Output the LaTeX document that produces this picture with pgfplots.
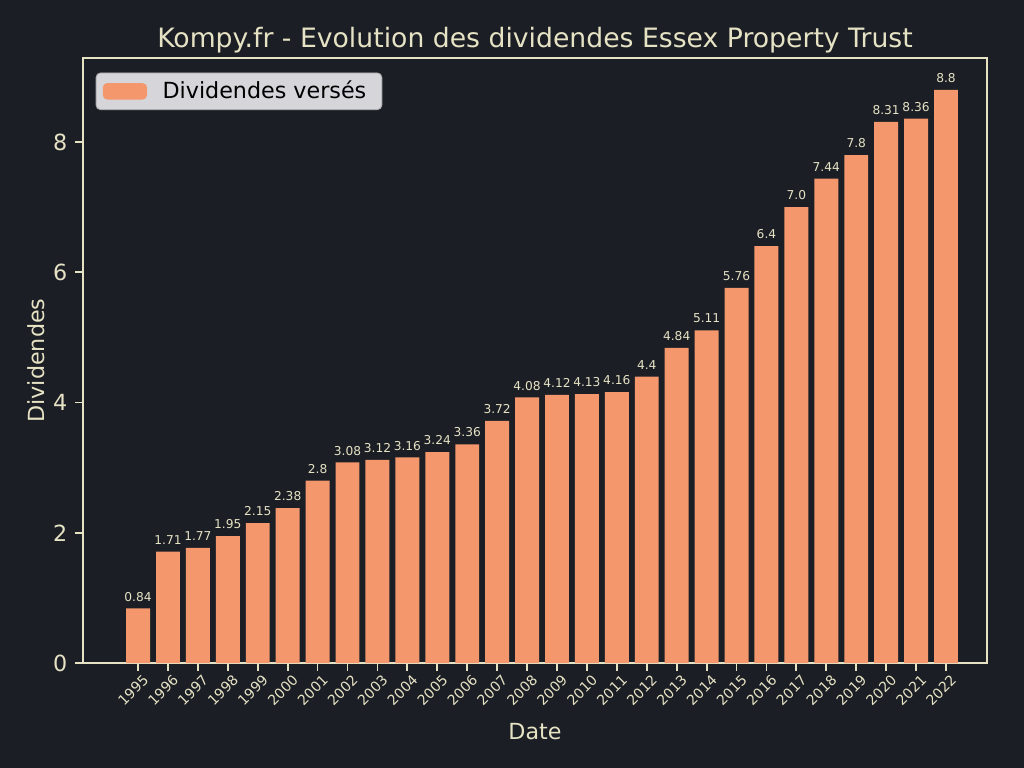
\documentclass[border=0pt]{standalone}
\usepackage{pgfplots}
\pgfplotsset{compat=1.18}
\usepackage{pgfplotstable}
\usepackage{fontspec}
\setmainfont{DejaVu Sans}
\definecolor{bg}{RGB}{27,30,37}
\definecolor{fg}{RGB}{230,226,196}
\definecolor{bar}{RGB}{244,151,108}
\definecolor{legbg}{RGB}{214,214,218}
\pgfplotstableread{
year val lab
1995 0.84 0.84
1996 1.71 1.71
1997 1.77 1.77
1998 1.95 1.95
1999 2.15 2.15
2000 2.38 2.38
2001 2.8 2.8
2002 3.08 3.08
2003 3.12 3.12
2004 3.16 3.16
2005 3.24 3.24
2006 3.36 3.36
2007 3.72 3.72
2008 4.08 4.08
2009 4.12 4.12
2010 4.13 4.13
2011 4.16 4.16
2012 4.4 4.4
2013 4.84 4.84
2014 5.11 5.11
2015 5.76 5.76
2016 6.4 6.4
2017 7.0 7.0
2018 7.44 7.44
2019 7.8 7.8
2020 8.31 8.31
2021 8.36 8.36
2022 8.8 8.8
}\datatable
\begin{document}
\begin{tikzpicture}
\useasboundingbox (-37.35pt,-47.2pt) rectangle (423.45pt,298.4pt);
\fill[bg] (-37.35pt,-47.2pt) rectangle (423.45pt,298.4pt);
\begin{axis}[
  scale only axis,
  width=406.8pt, height=272.3pt,
  xmin=1993.16, xmax=2023.37,
  ymin=0, ymax=9.29,
  axis line style={fg, line width=0.8pt},
  tick style={fg, line width=0.8pt},
  tick align=outside,
  major tick length=3.5pt,
  xtick=data,
  xticklabels from table={\datatable}{year},
  xticklabel style={rotate=45, anchor=north east, font=\fontsize{6.3}{7}\selectfont, text=fg, inner sep=1pt, xshift=1.5pt, yshift=-1pt},
  ytick={0,2,4,6,8},
  yticklabel style={font=\fontsize{10}{12}\selectfont, text=fg},
  /pgf/number format/assume math mode=true,
  xtick pos=bottom, ytick pos=left,
  title={Kompy.fr - Evolution des dividendes Essex Property Trust},
  title style={font=\fontsize{12}{14}\selectfont, text=fg, yshift=-7.5pt},
  xlabel={Date},
  ylabel={Dividendes},
  xlabel style={font=\fontsize{10}{12}\selectfont, text=fg, yshift=-2.5pt},
  ylabel style={font=\fontsize{10}{12}\selectfont, text=fg, yshift=-3pt},
  legend style={at={(0.014,0.976)}, anchor=north west, fill=legbg, draw=legbg!80!black, rounded corners=2pt, font=\fontsize{10}{12}\selectfont, text=black, inner xsep=3pt, inner ysep=1.5pt},
  legend cell align=left,
  legend image code/.code={\fill[bar] (-0.05cm,-0.13cm) rectangle (0.65cm,0.13cm);},
  legend style={nodes={inner xsep=4pt}},
  nodes near coords,
  point meta=explicit symbolic,
  every node near coord/.append style={font=\fontsize{5.5}{6}\selectfont, text=fg, inner sep=2pt, yshift=1pt},
]
\addplot[ybar, bar width=0.8, fill=bar, draw=none] table[x=year, y=val, meta=lab] {\datatable};
\addlegendentry{\hspace{3pt}Dividendes versés}
\end{axis}
\end{tikzpicture}
\end{document}
